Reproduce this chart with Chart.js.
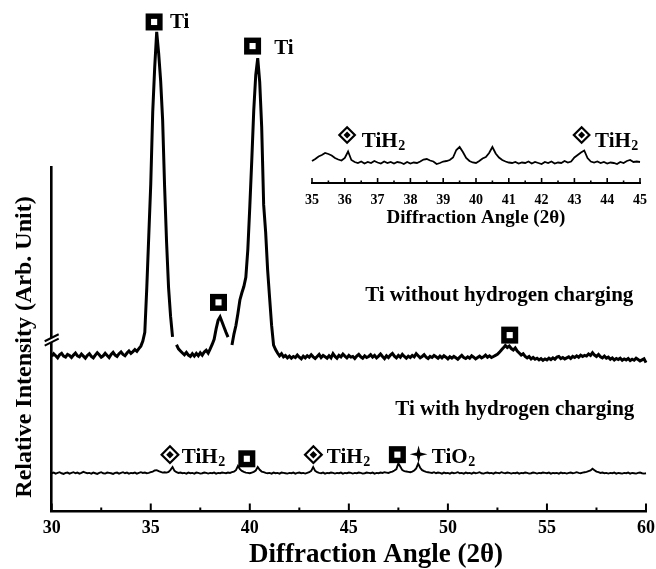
<!DOCTYPE html>
<html>
<head>
<meta charset="utf-8">
<script src="https://cdn.jsdelivr.net/npm/chart.js@4.4.1/dist/chart.umd.min.js"></script>
<style>
  body { margin: 0; background: #fff; }
  #wrap { position: relative; width: 656px; height: 569px; }
  #wrap canvas { position: absolute; left: 0; top: 0; }
</style>
</head>
<body>
<div id="wrap">
  <canvas id="main" width="656" height="569"></canvas>
  <canvas id="inset" width="656" height="240"></canvas>
</div>
<script>
// scan settings (2theta start / step)
const mainStart = 30, insetStart = 35, scanStep = 0.1;

// Ti without hydrogen charging, 30.0 .. 60.0
const uncharged = [
  45.0, 45.8, 45.2, 44.6, 45.5, 45.9, 45.1, 44.8, 45.6, 45.3,
  44.7, 45.4, 46.0, 45.2, 44.9, 45.7, 45.1, 44.5, 45.3, 45.8,
  45.0, 44.6, 45.4, 46.1, 45.5, 44.8, 45.2, 45.9, 45.3, 44.7,
  45.6, 46.2, 45.4, 45.0, 45.8, 46.3, 45.6, 45.2, 46.0, 46.6,
  45.9, 46.4, 47.0, 46.5, 47.3, 48.0, 49.5, 52.0, 65.0, 80.0,
  95.0, 116.0, 129.0, 139.2, 133.0, 125.0, 113.6, 94.2, 78.0, 64.9,
  56.7, 50.7, null, 48.4, 47.2, 46.6, 46.0, 45.5, 46.2, 45.4,
  45.0, 45.8, 45.1, 45.9, 45.2, 46.1, 45.4, 46.3, 46.8, 46.0,
  47.2, 48.5, 50.0, 53.0, 55.5, 56.5, 55.0, 53.5, 52.0, 50.6,
  null, 48.3, 51.5, 54.0, 57.5, 61.4, 63.5, 65.3, 68.0, 76.0,
  88.5, 102.0, 116.5, 126.7, 131.6, 124.7, 111.6, 89.0, 81.1, 70.1,
  62.0, 54.1, 48.3, 47.0, 46.0, 45.2, 45.8, 44.9, 45.3, 44.6,
  45.1, 44.5, 45.0, 44.7, 45.4, 44.8, 44.3, 45.1, 44.6, 45.2,
  44.8, 45.5, 44.9, 44.4, 45.0, 45.6, 44.7, 45.3, 44.9, 44.5,
  45.2, 44.6, 45.8, 45.0, 44.5, 45.3, 44.9, 45.7, 45.1, 44.6,
  45.3, 44.8, 45.0, 44.4, 45.1, 45.6, 44.9, 44.5, 45.2, 44.7,
  45.0, 45.5, 44.8, 45.3, 44.6, 45.1, 45.7, 45.0, 44.4, 45.2,
  44.7, 45.4, 45.9, 45.1, 44.6, 45.3, 44.8, 45.6, 45.0, 44.5,
  45.1, 44.7, 45.3, 44.9, 45.8, 45.2, 44.6, 45.0, 45.5, 44.8,
  44.4, 45.0, 44.7, 45.3, 44.9, 44.5, 45.1, 44.6, 45.2, 44.8,
  44.3, 44.9, 44.5, 45.0, 44.6, 44.2, 44.8, 45.3, 44.7, 44.4,
  44.9, 44.5, 45.2, 44.8, 44.3, 44.7, 45.1, 44.6, 44.9, 45.4,
  44.8, 45.2, 44.7, 45.0, 45.3, 45.6, 46.2, 46.9, 47.5, 48.2,
  47.6, 48.0, 47.3, 46.9, 47.5, 46.6, 46.0, 45.4, 45.8, 45.0,
  44.6, 45.0, 44.3, 44.7, 44.2, 44.5, 44.0, 44.4, 43.9, 44.3,
  44.0, 44.5, 44.1, 44.6, 44.2, 44.8, 45.0, 44.4, 44.7, 44.3,
  44.6, 44.9, 44.4, 45.0, 44.7, 45.2, 44.8, 45.4, 45.0, 45.3,
  45.1, 45.7, 45.3, 46.1, 45.4, 45.0, 45.6, 44.9, 44.6, 45.1,
  44.5, 44.8, 44.2, 44.6, 44.0, 44.4, 44.1, 44.5, 43.9, 44.3,
  44.0, 44.4, 43.8, 44.2, 43.9, 44.5, 44.1, 43.7, 44.0, 44.3,
  43.2
];

// Ti with hydrogen charging, 30.0 .. 60.0
const charged = [
  11.1, 11.3, 11.0, 11.2, 11.4, 11.1, 10.9, 11.2, 11.3, 11.0,
  11.2, 11.4, 11.1, 11.3, 11.0, 11.2, 11.5, 11.3, 11.1, 11.2,
  11.0, 11.3, 11.1, 10.9, 11.2, 11.4, 11.1, 11.0, 11.3, 11.2,
  11.1, 10.9, 11.2, 11.3, 11.0, 11.2, 11.4, 11.1, 11.3, 11.0,
  11.2, 11.1, 11.3, 11.0, 11.2, 11.4, 11.2, 11.3, 11.1, 11.2,
  11.4, 11.6, 11.9, 12.0, 11.7, 11.5, 11.3, 11.4, 11.3, 11.5,
  12.1, 12.9, 11.8, 11.4, 11.2, 11.3, 11.1, 11.2, 11.0, 11.3,
  11.1, 11.2, 11.0, 11.3, 11.2, 11.0, 11.1, 11.3, 11.2, 11.0,
  11.2, 11.1, 11.3, 11.0, 11.2, 11.1, 11.3, 11.2, 11.1, 11.3,
  11.2, 11.4, 11.6, 12.0, 13.2, 12.3, 11.8, 11.5, 11.3, 11.2,
  11.1, 11.3, 11.5, 11.9, 12.9, 12.1, 11.6, 11.4, 11.2, 11.1,
  11.2, 11.0, 11.3, 11.1, 11.2, 11.0, 11.3, 11.2, 11.1, 11.0,
  11.2, 11.1, 11.3, 11.0, 11.2, 11.3, 11.1, 11.2, 11.0, 11.2,
  11.4, 11.8, 12.9, 11.8, 11.4, 11.2, 11.1, 11.3, 11.0, 11.2,
  11.1, 11.3, 11.2, 11.0, 11.2, 11.1, 11.3, 11.0, 11.2, 11.1,
  11.3, 11.2, 11.0, 11.2, 11.1, 11.3, 11.2, 11.0, 11.1, 11.3,
  11.2, 11.1, 11.3, 11.0, 11.2, 11.1, 11.3, 11.2, 11.4, 11.3,
  11.2, 11.4, 11.6, 11.9, 12.3, 14.0, 13.0, 12.0, 11.7, 11.6,
  11.5, 11.4, 11.6, 11.9, 12.5, 13.9, 12.7, 12.0, 11.7, 11.5,
  11.4, 11.3, 11.2, 11.4, 11.1, 11.3, 11.2, 11.0, 11.3, 11.1,
  11.2, 11.0, 11.3, 11.1, 11.2, 11.4, 11.1, 11.2, 11.0, 11.3,
  11.1, 11.2, 11.0, 11.3, 11.1, 11.2, 11.4, 11.1, 11.0, 11.2,
  11.3, 11.1, 11.2, 11.0, 11.3, 11.2, 11.1, 11.4, 11.2, 11.1,
  11.3, 11.2, 11.0, 11.2, 11.1, 11.3, 11.0, 11.2, 11.1, 11.3,
  11.2, 11.0, 11.1, 11.3, 11.2, 11.0, 11.2, 11.1, 11.3, 11.2,
  11.1, 11.3, 11.0, 11.2, 11.1, 11.2, 11.0, 11.3, 11.1, 11.2,
  11.0, 11.2, 11.3, 11.1, 11.2, 11.4, 11.2, 11.1, 11.3, 11.4,
  11.5, 11.7, 11.9, 12.4, 12.0, 11.6, 11.4, 11.2, 11.3, 11.1,
  11.2, 11.0, 11.2, 11.1, 11.3, 11.0, 11.2, 11.1, 11.0, 11.2,
  11.1, 11.3, 11.0, 11.2, 11.1, 11.0, 11.2, 11.3, 11.1, 11.0,
  11.1
];

// inset: charged sample, 35.0 .. 45.0
const insetCharged = [
  4.4, 4.8, 5.3, 5.6, 6.0, 5.8, 5.5, 5.0, 4.7, 4.5,
  5.0, 6.3, 4.6, 4.2, 4.0, 4.3, 3.9, 4.2, 4.0, 4.4,
  4.1, 3.9, 4.3, 4.0, 4.2, 3.9, 4.2, 4.1, 3.8, 4.2,
  3.9, 4.1, 4.0, 4.3, 4.7, 4.8, 4.5, 4.3, 3.8, 4.0,
  4.3, 4.4, 4.6, 5.1, 6.6, 7.2, 6.2, 5.0, 4.4, 4.1,
  4.0, 4.4, 4.9, 5.2, 6.0, 7.2, 5.9, 5.1, 4.6, 4.3,
  4.1, 4.0, 4.2, 3.9, 4.1, 4.0, 4.3, 3.9, 4.2, 4.0,
  3.8, 4.2, 4.0, 4.3, 3.9, 4.1, 4.0, 4.4, 4.1, 4.3,
  5.1, 5.6, 6.1, 6.5, 5.0, 4.3, 4.1, 4.3, 4.0, 4.2,
  3.9, 4.1, 4.0, 3.8, 4.2, 4.0, 4.4, 4.6, 4.2, 4.3,
  4.2
];

const mainTicks = [30, 35, 40, 45, 50, 55, 60];
const insetTicks = [35, 36, 37, 38, 39, 40, 41, 42, 43, 44, 45];

const SERIF = '"Liberation Serif", "Times New Roman", serif';

function toPoints(vals, start) {
  return vals.map(function (v, i) {
    return { x: Math.round((start + i * scanStep) * 100) / 100, y: v };
  });
}

// ---- marker helpers ----
function drawSquare(ctx, x, y, s) {
  ctx.fillStyle = "#000";
  ctx.fillRect(x - s / 2, y - s / 2, s, s);
  ctx.fillStyle = "#fff";
  var w = s * 0.36;
  ctx.fillRect(x - w / 2, y - w / 2, w, w);
}

function drawDiamond(ctx, x, y, r) {
  ctx.strokeStyle = "#000";
  ctx.lineWidth = 2.2;
  ctx.beginPath();
  ctx.moveTo(x, y - r + 1.5);
  ctx.lineTo(x + r - 1.5, y);
  ctx.lineTo(x, y + r - 1.5);
  ctx.lineTo(x - r + 1.5, y);
  ctx.closePath();
  ctx.stroke();
  var q = r * 0.38;
  ctx.fillStyle = "#000";
  ctx.beginPath();
  ctx.moveTo(x, y - q);
  ctx.lineTo(x + q, y);
  ctx.lineTo(x, y + q);
  ctx.lineTo(x - q, y);
  ctx.closePath();
  ctx.fill();
}

function drawStar(ctx, x, y, r) {
  var inner = r * 0.28;
  ctx.fillStyle = "#000";
  ctx.beginPath();
  for (var k = 0; k < 8; k++) {
    var a = -Math.PI / 2 + k * Math.PI / 4;
    var rr = k % 2 === 0 ? r : inner;
    var px = x + rr * Math.cos(a), py = y + rr * Math.sin(a);
    if (k === 0) ctx.moveTo(px, py); else ctx.lineTo(px, py);
  }
  ctx.closePath();
  ctx.fill();
}

function drawFormula(ctx, x, y, main, sub, size, align) {
  ctx.fillStyle = "#000";
  ctx.textBaseline = "alphabetic";
  ctx.font = "bold " + size + "px " + SERIF;
  var w1 = ctx.measureText(main).width;
  var subSize = Math.round(size * 0.68);
  var w2 = 0;
  if (sub) {
    ctx.font = "bold " + subSize + "px " + SERIF;
    w2 = ctx.measureText(sub).width;
  }
  var left = align === "right" ? x - w1 - w2 : (align === "center" ? x - (w1 + w2) / 2 : x);
  ctx.font = "bold " + size + "px " + SERIF;
  ctx.textAlign = "left";
  ctx.fillText(main, left, y);
  if (sub) {
    ctx.font = "bold " + subSize + "px " + SERIF;
    ctx.fillText(sub, left + w1 + 0.5, y + size * 0.18);
  }
}

// peak annotations, given in (angle, intensity)
const mainMarks = [
  { kind: "square", a: 35.17, v: 142.1 },
  { kind: "square", a: 40.14, v: 135.1 },
  { kind: "square", a: 38.42, v: 60.7 },
  { kind: "square", a: 53.12, v: 51.2 },
  { kind: "diamond", a: 35.97, v: 16.5 },
  { kind: "square", a: 39.85, v: 15.3 },
  { kind: "diamond", a: 43.21, v: 16.5 },
  { kind: "square", a: 47.45, v: 16.5 },
  { kind: "star", a: 48.52, v: 16.6 }
];
const mainTexts = [
  { a: 35.97, v: 140.3, main: "Ti" },
  { a: 41.23, v: 132.8, main: "Ti" },
  { a: 36.57, v: 14.2, main: "TiH", sub: "2" },
  { a: 43.89, v: 14.2, main: "TiH", sub: "2" },
  { a: 49.19, v: 14.2, main: "TiO", sub: "2" },
  { a: 59.36, v: 61.0, main: "Ti without hydrogen charging", align: "right" },
  { a: 59.41, v: 28.0, main: "Ti with hydrogen charging", align: "right" }
];
const insetMarks = [
  { kind: "diamond", a: 36.07, v: 9.6 },
  { kind: "diamond", a: 43.22, v: 9.6 }
];
const insetTexts = [
  { a: 36.52, v: 7.27, main: "TiH", sub: "2" },
  { a: 43.63, v: 7.27, main: "TiH", sub: "2" }
];

function drawMarks(chart, marks, texts, mSize) {
  var ctx = chart.ctx, xs = chart.scales.x, ys = chart.scales.y;
  marks.forEach(function (m) {
    var x = xs.getPixelForValue(m.a), y = ys.getPixelForValue(m.v);
    if (m.kind === "square") drawSquare(ctx, x, y, mSize);
    else if (m.kind === "diamond") drawDiamond(ctx, x, y, mSize * 0.58);
    else drawStar(ctx, x, y, mSize * 0.52);
  });
  texts.forEach(function (t) {
    drawFormula(ctx, xs.getPixelForValue(t.a), ys.getPixelForValue(t.v), t.main, t.sub, 21, t.align);
  });
}

function drawInwardTicks(chart, from, to, step, majorEvery, majLen, minLen, lw) {
  var ctx = chart.ctx, xs = chart.scales.x;
  var y0 = chart.chartArea.bottom;
  ctx.save();
  ctx.strokeStyle = "#000";
  ctx.lineWidth = lw;
  for (var i = 0; from + i * step <= to + 1e-6; i++) {
    var v = from + i * step;
    var len = i % majorEvery === 0 ? majLen : minLen;
    var x = xs.getPixelForValue(v);
    ctx.beginPath();
    ctx.moveTo(x, y0);
    ctx.lineTo(x, y0 - len);
    ctx.stroke();
  }
  ctx.restore();
}

const mainDecor = {
  id: "mainDecor",
  afterDraw: function (chart) {
    var ctx = chart.ctx, area = chart.chartArea;
    drawInwardTicks(chart, 30, 60, 2.5, 2, 8, 4, 2);

    // axis break on the y axis
    var bx = area.left, by = chart.scales.y.getPixelForValue(49.8);
    ctx.save();
    ctx.fillStyle = "#fff";
    ctx.fillRect(bx - 2, by - 2, 4, 4);
    ctx.strokeStyle = "#000";
    ctx.lineWidth = 2;
    [-2.2, 2.2].forEach(function (d) {
      ctx.beginPath();
      ctx.moveTo(bx - 7, by + d + 3.5);
      ctx.lineTo(bx + 7, by + d - 3.5);
      ctx.stroke();
    });

    // y axis title
    ctx.translate(25, 347);
    ctx.rotate(-Math.PI / 2);
    ctx.fillStyle = "#000";
    ctx.font = "bold 24px " + SERIF;
    ctx.textAlign = "center";
    ctx.textBaseline = "middle";
    ctx.fillText("Relative Intensity (Arb. Unit)", 0, 0);
    ctx.restore();

    // x axis title (sits right of the axis centre in the original)
    ctx.save();
    drawFormula(ctx, 376, 562, "Diffraction Angle (2θ)", null, 27, "center");
    drawMarks(chart, mainMarks, mainTexts, 17);
    ctx.restore();
  }
};

const insetDecor = {
  id: "insetDecor",
  afterDraw: function (chart) {
    drawInwardTicks(chart, 35, 45, 0.5, 2, 5, 2.5, 1.6);
    chart.ctx.save();
    drawMarks(chart, insetMarks, insetTexts, 16);
    chart.ctx.restore();
  }
};

new Chart(document.getElementById("main").getContext("2d"), {
  type: "line",
  data: {
    datasets: [
      {
        label: "Ti without hydrogen charging",
        data: toPoints(uncharged, mainStart),
        borderColor: "#000",
        borderWidth: 3,
        pointRadius: 0,
        tension: 0,
        clip: false
      },
      {
        label: "Ti with hydrogen charging",
        data: toPoints(charged, mainStart),
        borderColor: "#000",
        borderWidth: 1.9,
        pointRadius: 0,
        tension: 0,
        clip: false
      }
    ]
  },
  options: {
    responsive: false,
    animation: false,
    events: [],
    layout: { padding: { top: 167, right: 10, left: 0, bottom: 0 } },
    plugins: { legend: { display: false }, tooltip: { enabled: false } },
    scales: {
      x: {
        type: "linear",
        min: 30,
        max: 60,
        afterBuildTicks: function (scale) {
          scale.ticks = mainTicks.map(function (v) { return { value: v }; });
        },
        afterFit: function (scale) {
          scale.height = 57.5;
          scale.paddingLeft = 0;
          scale.paddingRight = 0;
        },
        grid: { display: false, drawTicks: false },
        border: { display: true, color: "#000", width: 2.6 },
        ticks: {
          color: "#000",
          padding: 6,
          maxRotation: 0,
          font: { family: SERIF, size: 18, weight: "bold" }
        },
        title: { display: false }
      },
      y: {
        min: 0,
        max: 100,
        afterFit: function (scale) { scale.width = 51.7; },
        grid: { display: false, drawTicks: false },
        border: { display: true, color: "#000", width: 2.6 },
        ticks: { display: false }
      }
    }
  },
  plugins: [mainDecor]
});

new Chart(document.getElementById("inset").getContext("2d"), {
  type: "line",
  data: {
    datasets: [
      {
        label: "inset",
        data: toPoints(insetCharged, insetStart),
        borderColor: "#000",
        borderWidth: 1.8,
        pointRadius: 0,
        tension: 0,
        clip: false
      }
    ]
  },
  options: {
    responsive: false,
    animation: false,
    events: [],
    layout: { padding: { top: 133, right: 16, left: 312, bottom: 0 } },
    plugins: { legend: { display: false }, tooltip: { enabled: false } },
    scales: {
      x: {
        type: "linear",
        min: 35,
        max: 45,
        afterBuildTicks: function (scale) {
          scale.ticks = insetTicks.map(function (v) { return { value: v }; });
        },
        afterFit: function (scale) {
          scale.height = 57;
          scale.paddingLeft = 0;
          scale.paddingRight = 0;
        },
        grid: { display: false, drawTicks: false },
        border: { display: true, color: "#000", width: 2 },
        ticks: {
          color: "#000",
          padding: 9,
          maxRotation: 0,
          autoSkip: false,
          font: { family: SERIF, size: 14, weight: "bold" }
        },
        title: {
          display: true,
          text: "Diffraction Angle (2θ)",
          color: "#000",
          padding: { top: 0, bottom: 11 },
          font: { family: SERIF, size: 19, weight: "bold" }
        }
      },
      y: { display: false, min: 0, max: 10 }
    }
  },
  plugins: [insetDecor]
});
</script>
</body>
</html>
